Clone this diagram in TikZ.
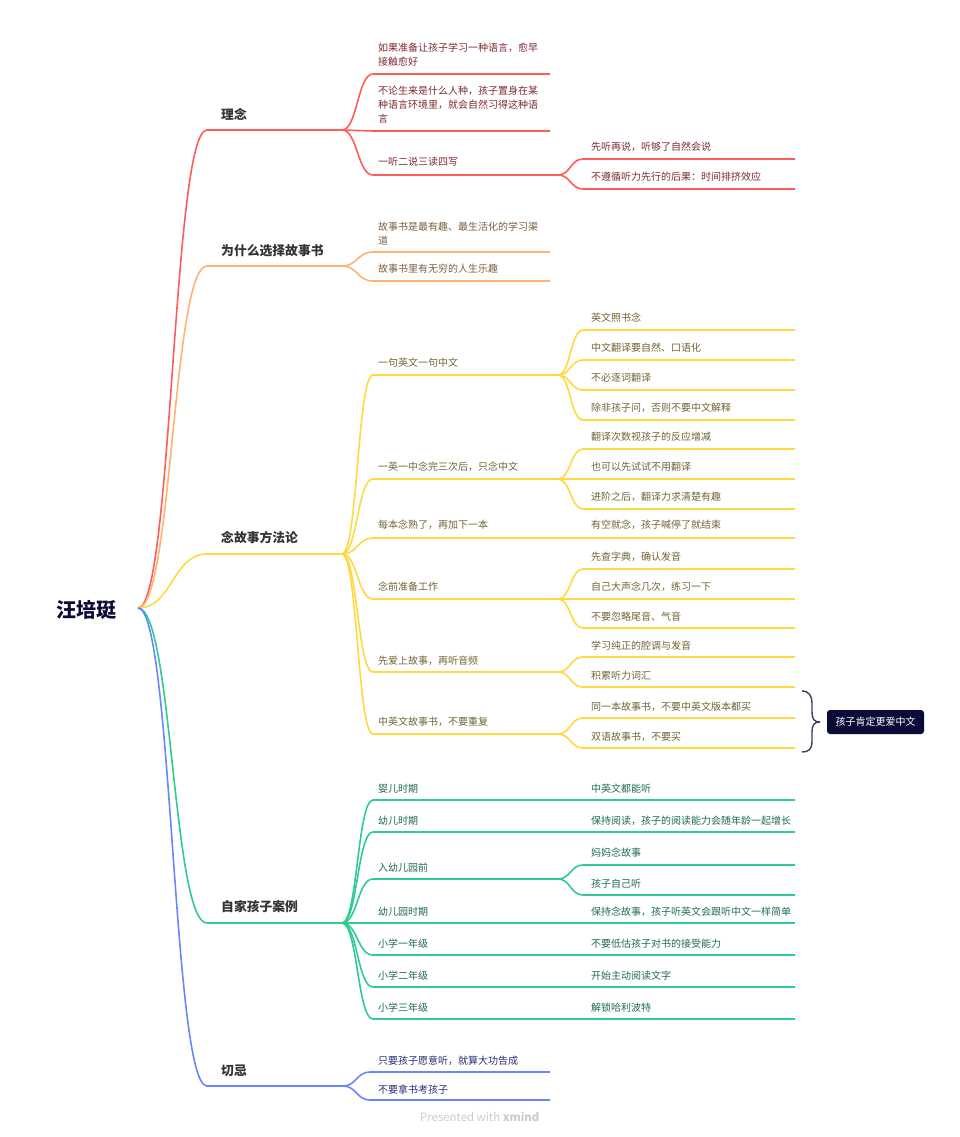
\documentclass[tikz,border=0pt]{standalone}
\usepackage{fontspec}
\setmainfont{Noto Sans CJK SC}
\usetikzlibrary{calc}
\def\zc{\char"FF0C\relax}
\def\zm{\char"FF1A\relax}
\definecolor{rootink}{HTML}{0B0B38}
\definecolor{redline}{HTML}{FF5C5C}
\definecolor{orangeline}{HTML}{FFB273}
\definecolor{yellowline}{HTML}{FFD93F}
\definecolor{greenline}{HTML}{2FCB90}
\definecolor{blueline}{HTML}{6A86FF}
\definecolor{redink}{HTML}{7E2A30}
\definecolor{orangeink}{HTML}{7D5F40}
\definecolor{yellowink}{HTML}{6F6433}
\definecolor{greenink}{HTML}{1E6A50}
\definecolor{blueink}{HTML}{262C78}
\tikzset{
	rootlabel/.style={inner sep=0pt,font=\fontsize{20}{24}\selectfont\bfseries,text=rootink},
	topic/.style={inner sep=0pt,anchor=west,yshift=-1pt,font=\fontsize{12.8}{15}\selectfont\bfseries,text=black!80},
	sub/.style={inner sep=0pt,anchor=west,align=left,yshift=-1pt,font=\fontsize{10}{14}\selectfont},
	redsub/.style={sub,text=redink},
	orangesub/.style={sub,text=orangeink},
	yellowsub/.style={sub,text=yellowink},
	greensub/.style={sub,text=greenink},
	bluesub/.style={sub,text=blueink},
	red1/.style={draw=redline,line width=1.6pt},
	orange1/.style={draw=orangeline,line width=1.6pt},
	yellow1/.style={draw=yellowline,line width=1.6pt},
	green1/.style={draw=greenline,line width=1.6pt},
	blue1/.style={draw=blueline,line width=1.6pt},
	summarybox/.style={fill=rootink,rounded corners=3pt,minimum width=97pt,minimum height=24pt,inner sep=0pt,text=white,font=\fontsize{10}{12}\selectfont},
	footer/.style={inner sep=0pt,anchor=west,text=black!20,font=\fontsize{11.4}{13}\selectfont}
}
\def\branch[#1](#2)(#3)(#4:#5:#6){\coordinate (#3s) at (#4,#6);\coordinate (#3e) at (#5,#6);\draw[#1] (#2) .. controls ({$(#2)!.5!(#3s)$} |- #2) and ({$(#2)!.5!(#3s)$} |- #3s) .. (#3s) -- (#3e);}

\begin{document}
\begin{tikzpicture}[x=1pt,y=-1pt]
	\useasboundingbox (0,0) rectangle (960,1137);
	%%%%% ROOT %%%%%
	\node[rootlabel] (rootnode) at (86.5,609.5) {汪培珽};
	\coordinate (root) at (138,608);

	%%%%% RED %%%%%
	\branch[red1](root)(a)(207:342:130);
	\node[topic] (alabel) at (221,113) {理念};
	\branch[red1](ae)(a1)(373:550:74);
	\node[redsub] (a1label) at (378,54) {如果准备让孩子学习一种语言\zc{}愈早\\接触愈好};
	\branch[red1](ae)(a2)(373:550:131);
	\node[redsub] (a2label) at (378,104) {不论生来是什么人种\zc{}孩子置身在某\\种语言环境里\zc{}就会自然习得这种语\\言};
	\branch[red1](ae)(a3)(373:558:175);
	\node[redsub] (a3label) at (378,161) {一听二说三读四写};
	\branch[red1](a3e)(a31)(583:795:159);
	\node[redsub] (a31label) at (591,146) {先听再说\zc{}听够了自然会说};
	\branch[red1](a3e)(a32)(583:795:189);
	\node[redsub] (a32label) at (591,176) {不遵循听力先行的后果\zm{}时间排挤效应};

	%%%%% ORANGE %%%%%
	\branch[orange1](root)(b)(207:342:266);
	\node[topic] (blabel) at (221,250) {为什么选择故事书};
	\branch[orange1](be)(b1)(373:550:252);
	\node[orangesub] (b1label) at (378,233) {故事书是最有趣、最生活化的学习渠\\道};
	\branch[orange1](be)(b2)(373:550:281);
	\node[orangesub] (b2label) at (378,268) {故事书里有无穷的人生乐趣};

	%%%%% YELLOW %%%%%
	\branch[yellow1](root)(c)(207:342:554);
	\node[topic] (clabel) at (221,537) {念故事方法论};
	\branch[yellow1](ce)(c1)(373:558:375);
	\node[yellowsub] (c1label) at (378,362) {一句英文一句中文};
	\branch[yellow1](c1e)(c11)(583:795:330);
	\node[yellowsub] (c11label) at (591,317) {英文照书念};
	\branch[yellow1](c1e)(c12)(583:795:360);
	\node[yellowsub] (c12label) at (591,347) {中文翻译要自然、口语化};
	\branch[yellow1](c1e)(c13)(583:795:390);
	\node[yellowsub] (c13label) at (591,377) {不必逐词翻译};
	\branch[yellow1](c1e)(c14)(583:795:420);
	\node[yellowsub] (c14label) at (591,407) {除非孩子问\zc{}否则不要中文解释};
	\branch[yellow1](ce)(c2)(373:558:479);
	\node[yellowsub] (c2label) at (378,466) {一英一中念完三次后\zc{}只念中文};
	\branch[yellow1](c2e)(c21)(583:795:449);
	\node[yellowsub] (c21label) at (591,436) {翻译次数视孩子的反应增减};
	\branch[yellow1](c2e)(c22)(583:795:479);
	\node[yellowsub] (c22label) at (591,466) {也可以先试试不用翻译};
	\branch[yellow1](c2e)(c23)(583:795:509);
	\node[yellowsub] (c23label) at (591,496) {进阶之后\zc{}翻译力求清楚有趣};
	\branch[yellow1](ce)(c3)(373:795:538);
	\node[yellowsub] (c3label) at (378,524) {每本念熟了\zc{}再加下一本};
	\node[yellowsub] (c31label) at (591,524) {有空就念\zc{}孩子喊停了就结束};
	\branch[yellow1](ce)(c4)(373:558:599);
	\node[yellowsub] (c4label) at (378,586) {念前准备工作};
	\branch[yellow1](c4e)(c41)(583:795:569);
	\node[yellowsub] (c41label) at (591,556) {先查字典\zc{}确认发音};
	\branch[yellow1](c4e)(c42)(583:795:599);
	\node[yellowsub] (c42label) at (591,586) {自己大声念几次\zc{}练习一下};
	\branch[yellow1](c4e)(c43)(583:795:628);
	\node[yellowsub] (c43label) at (591,616) {不要忽略尾音、气音};
	\branch[yellow1](ce)(c5)(373:558:672);
	\node[yellowsub] (c5label) at (378,660) {先爱上故事\zc{}再听音频};
	\branch[yellow1](c5e)(c51)(583:795:657);
	\node[yellowsub] (c51label) at (591,645) {学习纯正的腔调与发音};
	\branch[yellow1](c5e)(c52)(583:795:687);
	\node[yellowsub] (c52label) at (591,675) {积累听力词汇};
	\branch[yellow1](ce)(c6)(373:558:734);
	\node[yellowsub] (c6label) at (378,721) {中英文故事书\zc{}不要重复};
	\branch[yellow1](c6e)(c61)(583:795:718);
	\node[yellowsub] (c61label) at (591,706) {同一本故事书\zc{}不要中英文版本都买};
	\branch[yellow1](c6e)(c62)(583:795:748);
	\node[yellowsub] (c62label) at (591,736) {双语故事书\zc{}不要买};

	%%%%% SUMMARY %%%%%
	\node[summarybox] (summary) at (875.5,722) {孩子肯定更爱中文};
	\coordinate (bracetop) at (802,691);
	\coordinate (bracebot) at (802,752);
	\coordinate (bracetip) at (820,722);
	\draw[rootink!80,line width=1.4pt] (bracetop) .. controls (809,691) and (812,696) .. (812,703) -- (812,712) .. controls (812,719) and (814,722) .. (bracetip);
	\draw[rootink!80,line width=1.4pt] (bracebot) .. controls (809,752) and (812,749) .. (812,741) -- (812,732) .. controls (812,725) and (814,722) .. (bracetip);

	%%%%% GREEN %%%%%
	\branch[green1](root)(d)(207:342:923);
	\node[topic] (dlabel) at (221,906) {自家孩子案例};
	\branch[green1](de)(d1)(373:795:800);
	\node[greensub] (d1label) at (378,788) {婴儿时期};
	\node[greensub] (d11label) at (591,788) {中英文都能听};
	\branch[green1](de)(d2)(373:795:832);
	\node[greensub] (d2label) at (378,820) {幼儿时期};
	\node[greensub] (d21label) at (591,820) {保持阅读\zc{}孩子的阅读能力会随年龄一起增长};
	\branch[green1](de)(d3)(373:558:879);
	\node[greensub] (d3label) at (378,867) {入幼儿园前};
	\branch[green1](d3e)(d31)(583:795:865);
	\node[greensub] (d31label) at (591,852) {妈妈念故事};
	\branch[green1](d3e)(d32)(583:795:895);
	\node[greensub] (d32label) at (591,883) {孩子自己听};
	\branch[green1](de)(d4)(373:795:923);
	\node[greensub] (d4label) at (378,911) {幼儿园时期};
	\node[greensub] (d41label) at (591,911) {保持念故事\zc{}孩子听英文会跟听中文一样简单};
	\branch[green1](de)(d5)(373:795:955);
	\node[greensub] (d5label) at (378,943) {小学一年级};
	\node[greensub] (d51label) at (591,943) {不要低估孩子对书的接受能力};
	\branch[green1](de)(d6)(373:795:987);
	\node[greensub] (d6label) at (378,975) {小学二年级};
	\node[greensub] (d61label) at (591,975) {开始主动阅读文字};
	\branch[green1](de)(d7)(373:795:1019);
	\node[greensub] (d7label) at (378,1007) {小学三年级};
	\node[greensub] (d71label) at (591,1007) {解锁哈利波特};

	%%%%% BLUE %%%%%
	\branch[blue1](root)(e)(207:343:1086);
	\node[topic] (elabel) at (221,1070) {切忌};
	\branch[blue1](ee)(e1)(370:550:1072);
	\node[bluesub] (e1label) at (378,1060) {只要孩子愿意听\zc{}就算大功告成};
	\branch[blue1](ee)(e2)(370:550:1100);
	\node[bluesub] (e2label) at (378,1089) {不要拿书考孩子};

	\node[footer] (xmindnote) at (420,1117) {Presented with \textbf{xmind}};
\end{tikzpicture}
\end{document}
